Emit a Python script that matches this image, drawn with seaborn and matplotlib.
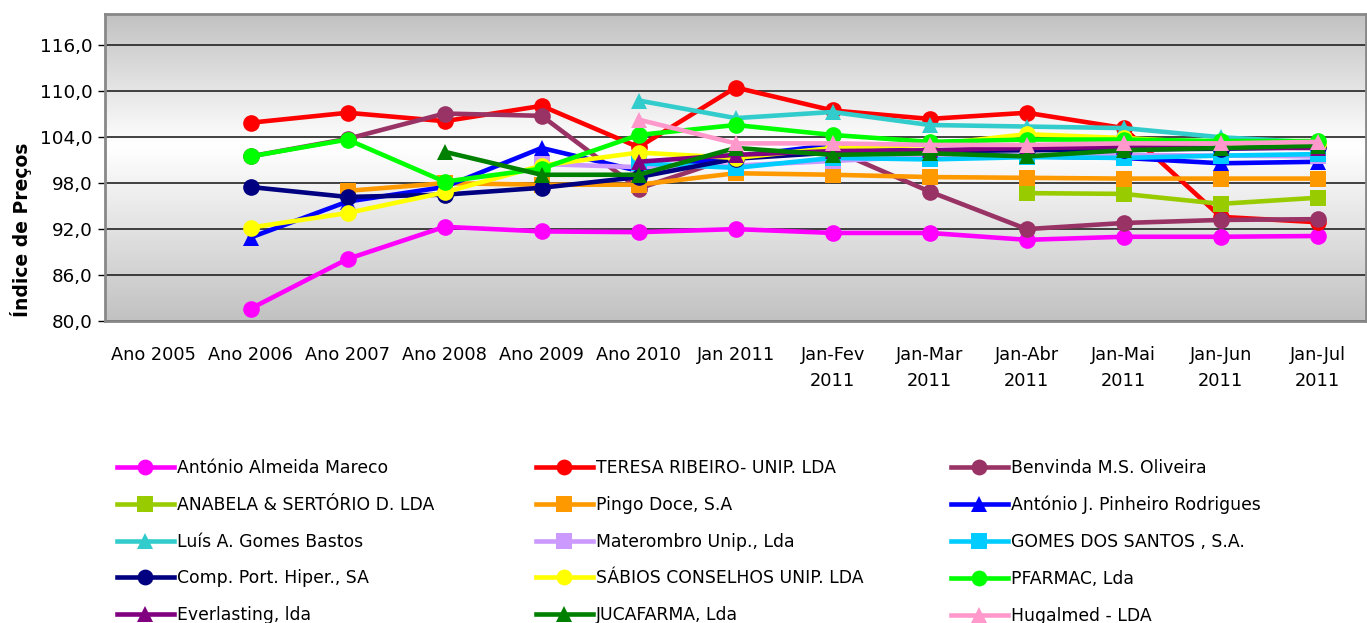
import numpy as np
import pandas as pd
import matplotlib
matplotlib.use("Agg")
import matplotlib.pyplot as plt
import seaborn as sns
from matplotlib.ticker import FuncFormatter

# periodos do eixo x
periods = ["Ano 2005", "Ano 2006", "Ano 2007", "Ano 2008", "Ano 2009", "Ano 2010",
           "Jan 2011", "Jan-Fev\n2011", "Jan-Mar\n2011", "Jan-Abr\n2011",
           "Jan-Mai\n2011", "Jan-Jun\n2011", "Jan-Jul\n2011"]

nan = np.nan
# indices de precos por estabelecimento
mareco = [nan, 81.6, 88.1, 92.3, 91.7, 91.6, 92.0, 91.5, 91.5, 90.6, 91.0, 91.0, 91.1]
teresa = [nan, 105.9, 107.2, 106.1, 108.1, 102.7, 110.5, 107.5, 106.4, 107.2, 105.2, 93.6, 92.9]
benvinda = [nan, 101.5, 103.8, 107.1, 106.8, 97.3, 101.5, 102.4, 96.9, 92.0, 92.8, 93.2, 93.3]
anabela = [nan, nan, nan, nan, nan, nan, nan, nan, nan, 96.7, 96.6, 95.3, 96.1]
pingo = [nan, nan, 97.0, 98.0, 97.8, 97.8, 99.3, 99.1, 98.8, 98.7, 98.6, 98.6, 98.6]
pinheiro = [nan, 90.9, 95.6, 97.5, 102.6, 99.6, 101.5, 103.0, 102.0, 101.5, 101.3, 100.6, 100.8]
bastos = [nan, nan, nan, nan, nan, 108.8, 106.5, 107.3, 105.6, 105.4, 105.2, 104.0, 103.3]
materombro = [nan, nan, nan, nan, 100.5, 100.1, 100.3, 100.9, 101.5, 101.6, 101.7, 101.6, 101.5]
gomes = [nan, nan, nan, nan, nan, 100.6, 100.0, 101.3, 101.1, 101.4, 101.3, 101.6, 101.8]
hiper = [nan, 97.5, 96.2, 96.5, 97.4, 98.8, 101.2, 102.0, 102.2, 102.3, 102.4, 102.5, 102.7]
sabios = [nan, 92.2, 94.1, 96.8, 100.3, 102.0, 101.3, 102.6, 103.0, 104.4, 103.9, 103.2, 103.1]
pfarmac = [nan, 101.5, 103.7, 98.2, 99.9, 104.3, 105.6, 104.3, 103.4, 103.7, 103.7, 103.5, 103.5]
everlasting = [nan, nan, nan, nan, nan, 100.8, 101.7, 102.2, 102.3, 102.6, 102.7, 102.6, 102.6]
jucafarma = [nan, nan, nan, 102.1, 99.1, 99.1, 102.6, 101.7, 101.9, 101.5, 102.3, 102.6, 102.9]
hugalmed = [nan, nan, nan, nan, nan, 106.3, 103.2, 103.2, 103.0, 103.0, 103.2, 103.2, 103.4]

names = ["António Almeida Mareco", "TERESA RIBEIRO- UNIP. LDA", "Benvinda M.S. Oliveira",
         "ANABELA & SERTÓRIO D. LDA", "Pingo Doce, S.A", "António J. Pinheiro Rodrigues",
         "Luís A. Gomes Bastos", "Materombro Unip., Lda", "GOMES DOS SANTOS , S.A.",
         "Comp. Port. Hiper., SA", "SÁBIOS CONSELHOS UNIP. LDA", "PFARMAC, Lda",
         "Everlasting, lda", "JUCAFARMA, Lda", "Hugalmed - LDA"]
series = [mareco, teresa, benvinda, anabela, pingo, pinheiro, bastos, materombro,
          gomes, hiper, sabios, pfarmac, everlasting, jucafarma, hugalmed]
colors = ["#FF00FF", "#FF0000", "#993366", "#99CC00", "#FF9900", "#0000FF",
          "#33CCCC", "#CC99FF", "#00CCFF", "#000080", "#FFFF00", "#00FF00",
          "#800080", "#008000", "#FF99CC"]
markers = ["o", "o", "o", "s", "s", "^", "^", "s", "s", "o", "o", "o", "^", "^", "^"]

plt.rcParams["font.family"] = ["DejaVu Sans"]

fig, ax = plt.subplots(figsize=(13.67, 6.23), dpi=100)
fig.subplots_adjust(left=0.0768, right=0.9995, top=0.9775, bottom=0.4848)

# fundo com gradiente
grad = np.concatenate([np.linspace(0.76, 1.0, 57), np.linspace(1.0, 0.76, 43)])
grad = grad[::-1].reshape(-1, 1)
ax.imshow(np.dstack([grad, grad, grad]), extent=[0, 1, 0, 1], transform=ax.transAxes,
          aspect="auto", zorder=0, interpolation="bicubic")

handles = []
for i, (name, vals) in enumerate(zip(names, series)):
    df = pd.DataFrame({"x": np.arange(len(periods)), "y": vals}).dropna()
    sns.lineplot(data=df, x="x", y="y", ax=ax, color=colors[i], marker=markers[i],
                 markersize=12, linewidth=3.3, markeredgecolor=colors[i],
                 markeredgewidth=0, label=name, zorder=3 + i)
    handles.append(ax.lines[-1])

ax.set_xlim(-0.5, len(periods) - 0.5)
ax.set_ylim(80, 120.1)
ax.set_yticks(np.arange(80, 117, 6))
ax.yaxis.set_major_formatter(FuncFormatter(lambda v, p: f"{v:.1f}".replace(".", ",")))
ax.set_xticks(np.arange(len(periods)))
ax.set_xticklabels(periods, fontsize=12.8, linespacing=1.55)
ax.tick_params(axis="x", length=0, pad=18)
ax.tick_params(axis="y", length=5, width=1, labelsize=13.2, color="black", pad=4)
ax.grid(axis="y", color="#222222", linewidth=1.2, zorder=1)
ax.grid(axis="x", visible=False)
ax.set_axisbelow(True)
for s in ax.spines.values():
    s.set_color("#888888")
    s.set_linewidth(2)

ax.set_xlabel("")
ax.set_ylabel("Índice de Preços", fontsize=13.5, fontweight="bold")
ax.yaxis.set_label_coords(-0.058, 0.296)
ax.get_legend().remove()

# legenda em 3 colunas
col_x = [117, 536, 951]
for c in range(3):
    hs = handles[c::3]
    fig.legend(hs, [h.get_label() for h in hs], loc="upper left",
               bbox_to_anchor=(col_x[c] / 1367, 1 - 459 / 623), frameon=False,
               fontsize=12.4, handlelength=3.3, handletextpad=0.2, labelspacing=1.09,
               borderpad=0, borderaxespad=0, markerscale=0.95)

fig.savefig("out.png", dpi=100)
